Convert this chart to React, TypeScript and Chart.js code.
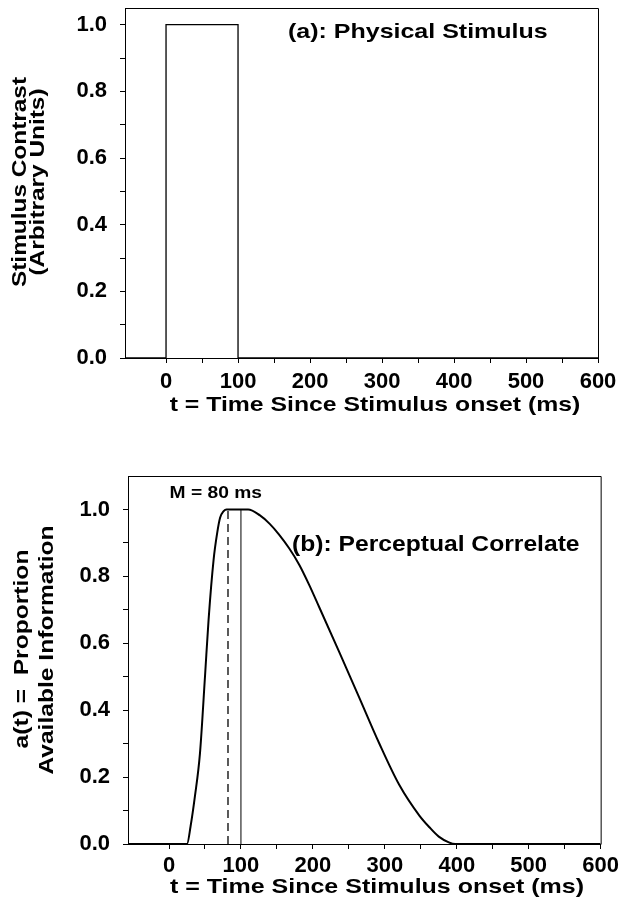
import React, { useEffect, useRef } from 'react';
import { Chart, registerables } from 'chart.js';

Chart.register(...registerables);

// ---------- data ----------
const X_MIN = -57;
const X_MAX = 600;
const X_TICKS = [0, 50, 100, 150, 200, 250, 300, 350, 400, 450, 500, 550, 600];
const Y_TICKS = [0, 0.1, 0.2, 0.3, 0.4, 0.5, 0.6, 0.7, 0.8, 0.9, 1.0];

// (a) physical stimulus: 100 ms pulse
const STIM_T = [-57, 0, 0, 100, 100, 600];
const STIM_V = [0, 0, 1, 1, 0, 0];

// (b) perceptual correlate a(t)
const CORR_T = [-57, 25, 30, 36, 43, 50, 55, 62, 67, 71, 76, 80, 110, 126, 140, 153, 167, 181, 195, 209, 237, 264, 292, 320, 348, 362, 375, 389, 398, 600];
const CORR_V = [0, 0, 0.053, 0.142, 0.27, 0.5, 0.67, 0.85, 0.93, 0.975, 0.995, 1.0, 1.0, 0.983, 0.957, 0.925, 0.884, 0.835, 0.774, 0.707, 0.572, 0.44, 0.302, 0.177, 0.085, 0.05, 0.022, 0.005, 0, 0];

const M_T = 82; // dashed marker (M = 80 ms)
const OFFSET_T = 100; // stimulus offset marker
const MARK_LOW = 0;
const MARK_HIGH = 1;

const X_TITLE = 't = Time Since Stimulus onset (ms)';
const Y_TITLE_A = ['Stimulus Contrast', '(Arbitrary Units)'];
const Y_TITLE_B = ['a(t) =  Proportion', 'Available Information'];
const LABEL_A = '(a): Physical Stimulus';
const LABEL_B = '(b): Perceptual Correlate';
const LABEL_M = 'M = 80 ms';

const FAMILY = "'Liberation Sans', Arial, Helvetica, sans-serif";

const toPts = (xs: number[], ys: number[]) => xs.map((x, i) => ({ x, y: ys[i] }));

// draws the frame (top/right) and all free text (titles, panel labels)
const annotPlugin = {
  id: 'annot',
  afterDraw(chart: any, _args: any, opts: any) {
    const { ctx, chartArea, scales } = chart;
    const { left, top, right, bottom } = chartArea;
    ctx.save();
    ctx.strokeStyle = '#000';
    ctx.lineWidth = 1;
    ctx.beginPath();
    ctx.moveTo(left + 0.5, top + 0.5);
    ctx.lineTo(right + 0.5, top + 0.5);
    ctx.lineTo(right + 0.5, bottom + 0.5);
    ctx.stroke();
    (opts.labels || []).forEach((l: any) => {
      const px = l.data ? scales.x.getPixelForValue(l.x) : l.x;
      const py = l.data ? scales.y.getPixelForValue(l.y) : l.y;
      ctx.save();
      ctx.font = l.font;
      ctx.fillStyle = '#000';
      ctx.textAlign = l.align;
      ctx.textBaseline = 'middle';
      ctx.translate(px, py);
      if (l.rot) ctx.rotate(-Math.PI / 2);
      ctx.scale(l.sx || 1, 1);
      ctx.fillText(l.text, 0, 0);
      ctx.restore();
    });
    ctx.restore();
  },
};

interface P {
  padTop: number;
  padRight: number;
  yMax: number;
  yAxisW: number;
  xAxisH: number;
  xTickPad: number;
  labels: any[];
}

function buildOptions(p: P): any {
  return {
    responsive: false,
    animation: false,
    events: [],
    layout: { padding: { left: 0, right: p.padRight, top: p.padTop, bottom: 0 } },
    plugins: {
      legend: { display: false },
      tooltip: { enabled: false },
      annot: { labels: p.labels },
    },
    scales: {
      x: {
        type: 'linear',
        min: X_MIN,
        max: X_MAX,
        afterBuildTicks: (s: any) => {
          s.ticks = X_TICKS.map((v) => ({ value: v }));
        },
        afterFit: (s: any) => {
          s.height = p.xAxisH;
        },
        ticks: {
          autoSkip: false,
          maxRotation: 0,
          padding: p.xTickPad,
          color: '#000',
          font: { family: FAMILY, size: 22, weight: 'bold' },
          callback: (v: number) => (v % 100 === 0 ? String(v) : ''),
        },
        grid: { display: true, drawOnChartArea: false, drawTicks: true, tickLength: 5, color: '#000', lineWidth: 1 },
        border: { display: true, color: '#000', width: 1 },
        title: { display: false },
      },
      y: {
        type: 'linear',
        min: 0,
        max: p.yMax,
        afterBuildTicks: (s: any) => {
          s.ticks = Y_TICKS.map((v) => ({ value: v }));
        },
        afterFit: (s: any) => {
          s.width = p.yAxisW;
          s.paddingTop = 0;
          s.paddingBottom = 0;
        },
        ticks: {
          autoSkip: false,
          padding: 13,
          color: '#000',
          font: { family: FAMILY, size: 22, weight: 'bold' },
          callback: (v: number) => (Math.round(v * 10) % 2 === 0 ? v.toFixed(1) : ''),
        },
        grid: { display: true, drawOnChartArea: false, drawTicks: true, tickLength: 5, color: '#000', lineWidth: 1 },
        border: { display: true, color: '#000', width: 1 },
        title: { display: false },
      },
    },
  };
}

const F = (size: number) => `bold ${size}px ${FAMILY}`;

function ChartA() {
  const ref = useRef<HTMLCanvasElement>(null);
  useEffect(() => {
    const chart = new Chart(ref.current as HTMLCanvasElement, {
      type: 'line',
      data: {
        datasets: [
          {
            data: toPts(STIM_T, STIM_V),
            borderColor: '#000',
            borderWidth: 1.3,
            pointRadius: 0,
            tension: 0,
            fill: false,
          },
        ],
      },
      options: buildOptions({
        padTop: 8,
        padRight: 25,
        yMax: 1.05,
        yAxisW: 125,
        xAxisH: 82,
        xTickPad: 6,
        labels: [
          { text: LABEL_A, data: true, x: 169.4, y: 0.978, align: 'left', font: F(21), sx: 1.19 },
          { text: X_TITLE, x: 375, y: 405, align: 'center', font: F(21), sx: 1.18 },
          { text: Y_TITLE_A[0], x: 20, y: 182, rot: true, align: 'center', font: F(20.5), sx: 1.19 },
          { text: Y_TITLE_A[1], x: 38.5, y: 182, rot: true, align: 'center', font: F(20.5), sx: 1.19 },
        ],
      }),
      plugins: [annotPlugin],
    } as any);
    return () => chart.destroy();
  }, []);
  return <canvas ref={ref} width={623} height={440} style={{ display: 'block', width: 623, height: 440 }} />;
}

function ChartB() {
  const ref = useRef<HTMLCanvasElement>(null);
  useEffect(() => {
    const chart = new Chart(ref.current as HTMLCanvasElement, {
      type: 'line',
      data: {
        datasets: [
          {
            data: toPts(CORR_T, CORR_V),
            borderColor: '#000',
            borderWidth: 2,
            pointRadius: 0,
            cubicInterpolationMode: 'monotone',
            fill: false,
          },
          {
            data: [
              { x: M_T, y: MARK_LOW },
              { x: M_T, y: MARK_HIGH },
            ],
            borderColor: '#000',
            borderWidth: 1.3,
            borderDash: [8, 5],
            pointRadius: 0,
            fill: false,
          },
          {
            data: [
              { x: OFFSET_T, y: MARK_LOW },
              { x: OFFSET_T, y: MARK_HIGH },
            ],
            borderColor: '#000',
            borderWidth: 1,
            pointRadius: 0,
            fill: false,
          },
        ],
      },
      options: buildOptions({
        padTop: 36,
        padRight: 21,
        yMax: 1.1,
        yAxisW: 128,
        xAxisH: 70,
        xTickPad: 4,
        labels: [
          { text: LABEL_B, data: true, x: 171, y: 0.894, align: 'left', font: F(22), sx: 1.12 },
          { text: LABEL_M, data: true, x: 65, y: 1.046, align: 'center', font: F(16), sx: 1.2 },
          { text: X_TITLE, x: 377, y: 447, align: 'center', font: F(21), sx: 1.19 },
          { text: Y_TITLE_B[0], x: 22.5, y: 209, rot: true, align: 'center', font: F(20.5), sx: 1.2 },
          { text: Y_TITLE_B[1], x: 47, y: 210, rot: true, align: 'center', font: F(20.5), sx: 1.2 },
        ],
      }),
      plugins: [annotPlugin],
    } as any);
    return () => chart.destroy();
  }, []);
  return <canvas ref={ref} width={623} height={474} style={{ display: 'block', width: 623, height: 474 }} />;
}

export default function App() {
  return (
    <div style={{ position: 'absolute', left: 0, top: 0, width: 623, height: 914, background: '#fff' }}>
      <ChartA />
      <ChartB />
    </div>
  );
}
